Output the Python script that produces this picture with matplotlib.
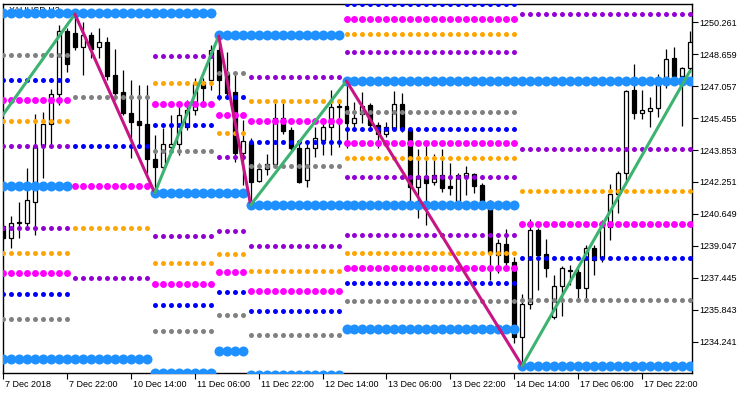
import matplotlib
matplotlib.use("Agg")
import matplotlib.pyplot as plt
import matplotlib.transforms as mtransforms
import numpy as np

# ---------------- data ----------------
opens = [1240.05, 1239.45, 1240.20, 1240.20, 1241.25, 1244.10, 1245.15, 1246.65, 1249.81, 1249.71,
         1249.01, 1249.61, 1249.01, 1249.26, 1247.61, 1246.75, 1245.70, 1245.30, 1245.15, 1243.40,
         1243.00, 1244.00, 1244.15, 1245.00, 1245.85, 1247.26, 1247.36, 1248.86, 1247.71, 1246.75,
         1243.70, 1244.20, 1242.30, 1242.90, 1243.15, 1245.45, 1244.85, 1243.95, 1242.35, 1243.95,
         1244.35, 1245.00, 1246.00, 1246.05, 1245.20, 1245.65, 1246.10, 1245.10, 1244.65, 1244.95,
         1246.15, 1244.85, 1242.00, 1242.55, 1242.25, 1242.60, 1242.05, 1241.25, 1242.50, 1242.65,
         1242.10, 1241.30, 1238.59, 1239.15, 1238.24, 1234.49, 1236.14, 1239.85, 1238.65, 1235.49,
         1237.04, 1237.79, 1237.74, 1236.94, 1238.95, 1238.45, 1240.00, 1241.65, 1242.70, 1246.85,
         1245.70, 1245.80, 1245.95, 1247.15, 1248.46, 1247.56, 1247.96]
highs = [1240.15, 1240.55, 1241.25, 1242.95, 1245.65, 1245.75, 1246.90, 1250.11, 1249.96, 1250.66,
         1250.26, 1249.76, 1249.96, 1249.51, 1248.91, 1247.86, 1247.36, 1247.10, 1247.10, 1244.60,
         1244.95, 1245.60, 1246.00, 1246.35, 1247.46, 1247.46, 1249.11, 1249.56, 1248.76, 1247.61,
         1245.35, 1244.45, 1243.20, 1243.65, 1246.20, 1246.20, 1245.00, 1244.20, 1244.20, 1245.00,
         1245.35, 1246.85, 1246.25, 1247.31, 1246.25, 1246.75, 1246.20, 1245.25, 1245.25, 1246.80,
         1246.70, 1245.00, 1243.90, 1244.05, 1243.65, 1243.90, 1243.20, 1242.70, 1243.05, 1242.70,
         1242.20, 1241.35, 1239.40, 1239.90, 1238.49, 1236.64, 1240.40, 1239.95, 1239.40, 1237.59,
         1238.04, 1238.09, 1237.99, 1239.10, 1239.10, 1240.35, 1242.15, 1242.80, 1246.85, 1248.16,
         1246.85, 1246.50, 1247.66, 1248.91, 1249.01, 1248.01, 1249.81]
lows = [1239.35, 1238.95, 1239.45, 1239.85, 1239.60, 1242.45, 1244.00, 1246.10, 1247.76, 1248.86,
        1247.61, 1248.46, 1248.46, 1247.36, 1246.35, 1245.60, 1243.45, 1243.95, 1242.70, 1241.65,
        1242.85, 1243.70, 1243.60, 1244.85, 1245.60, 1246.25, 1246.85, 1246.35, 1246.45, 1243.25,
        1242.10, 1241.15, 1242.25, 1242.60, 1243.00, 1244.65, 1243.85, 1242.20, 1242.00, 1243.50,
        1243.60, 1243.60, 1244.00, 1243.95, 1244.95, 1245.20, 1244.85, 1243.95, 1244.50, 1244.85,
        1244.75, 1241.30, 1240.45, 1240.10, 1242.10, 1241.75, 1241.60, 1241.10, 1241.60, 1241.70,
        1241.20, 1237.34, 1237.69, 1238.09, 1234.19, 1233.04, 1235.89, 1236.84, 1237.49, 1235.39,
        1235.54, 1237.09, 1236.44, 1236.44, 1237.59, 1238.24, 1239.35, 1240.70, 1242.20, 1245.40,
        1245.40, 1245.00, 1245.50, 1246.95, 1247.36, 1245.05, 1247.76]
closes = [1239.45, 1240.20, 1240.25, 1241.35, 1244.00, 1245.15, 1246.65, 1249.81, 1248.16, 1249.01,
          1249.61, 1248.91, 1249.26, 1247.56, 1246.70, 1245.70, 1245.25, 1245.10, 1243.40, 1243.00,
          1244.15, 1244.15, 1245.60, 1245.85, 1247.21, 1246.95, 1248.86, 1247.36, 1246.70, 1243.70,
          1244.30, 1242.25, 1242.90, 1243.15, 1245.45, 1244.80, 1243.95, 1242.25, 1243.95, 1244.45,
          1245.00, 1246.00, 1246.05, 1245.20, 1245.45, 1246.05, 1245.10, 1244.65, 1245.00, 1246.15,
          1244.95, 1242.00, 1242.55, 1242.20, 1242.60, 1241.95, 1241.95, 1242.60, 1242.70, 1242.05,
          1241.30, 1238.69, 1239.20, 1238.24, 1234.49, 1236.14, 1239.85, 1238.59, 1237.94, 1237.04,
          1237.94, 1237.84, 1236.94, 1238.95, 1238.34, 1240.00, 1241.65, 1242.70, 1246.80, 1245.70,
          1245.85, 1245.95, 1247.15, 1248.41, 1247.56, 1247.96, 1249.26]

# zigzag pivots (bar index, price)
zz_bars = [-2, 9, 19, 27, 31, 43, 65, 86]
zz_prices = [1244.50, 1250.66, 1241.70, 1249.56, 1241.10, 1247.31, 1233.04, 1247.81]

# level blocks (first bar, last bar) and level prices per colour
block_start = [0, 9, 19, 27, 31, 43, 65]
block_end = [8, 18, 26, 30, 42, 64, 86]
lvl_bigblue = [[1250.71, 1242.05, 1233.39], [1250.71, 1233.39], [1250.71, 1241.70, 1232.69],
               [1249.61, 1241.70, 1233.79], [1249.61, 1241.10, 1232.59], [1247.31, 1241.10, 1234.89],
               [1247.31, 1233.04]]
lvl_magenta = [[1246.35, 1237.69], [1242.05], [1246.15, 1237.14], [1245.60, 1237.74],
               [1245.30, 1236.79], [1250.41, 1244.20, 1237.94], [1240.15]]
lvl_orange = [[1245.30, 1238.70], [1239.95], [1247.21, 1238.19], [1244.70, 1238.65],
              [1246.30, 1237.79], [1249.66, 1243.45, 1238.70], [1241.80]]
lvl_purple = [[1244.05, 1239.95], [1237.44], [1248.56, 1239.55], [1243.50, 1239.80],
              [1247.51, 1239.05], [1248.76, 1242.50, 1239.60], [1250.66, 1243.90]]
lvl_blue = [[1247.36, 1236.64], [1244.05], [1245.10, 1236.09], [1246.50, 1236.74],
            [1244.25, 1235.79], [1251.16, 1244.90, 1237.19], [1238.45]]
lvl_gray = [[1248.61, 1235.39], [1246.50], [1243.80, 1234.79], [1247.71, 1235.59],
            [1243.05, 1234.59], [1245.75, 1236.29], [1236.34]]

ytick_vals = [1250.261, 1248.659, 1247.057, 1245.455, 1243.853, 1242.251,
              1240.649, 1239.047, 1237.445, 1235.843, 1234.241]
xtick_bars = [0, 8, 16, 24, 32, 40, 48, 56, 64, 72, 80]
xtick_labels = ["7 Dec 2018", "7 Dec 22:00", "10 Dec 14:00", "11 Dec 06:00", "11 Dec 22:00",
                "12 Dec 14:00", "13 Dec 06:00", "13 Dec 22:00", "14 Dec 14:00",
                "17 Dec 06:00", "17 Dec 22:00"]
title = "XAUUSD,H2"

plt.rcParams["font.family"] = ["Liberation Sans", "DejaVu Sans"]
FS = 6.5

# ---------------- figure ----------------
W, H = 750, 394
fig = plt.figure(figsize=(W / 100, H / 100), dpi=100)
fig.patch.set_facecolor("white")
L, R, T, B = 3, 692, 3.5, 372.5
ax = fig.add_axes([L / W, (H - B) / H, (R - L) / W, (B - T) / H])
ax.set_facecolor("white")
ax.set_xlim(0.125, 86.25)
ax.set_ylim(1232.71, 1251.19)

# candles
idx = np.arange(len(opens))
o = np.array(opens); c = np.array(closes); h = np.array(highs); l = np.array(lows)
ax.vlines(idx, l, h, color="black", lw=0.9, zorder=2)
bottoms = np.minimum(o, c)
heights = np.maximum(np.abs(c - o), 0.02)
fcols = ["white" if cc >= oo else "black" for oo, cc in zip(o, c)]
ax.bar(idx, heights, bottom=bottoms, width=0.5, color=fcols, edgecolor="black",
       linewidth=0.9, zorder=3)

# level dots
styles = [(lvl_purple, "#9400D3", 3.6), (lvl_blue, "#0000FF", 3.6), (lvl_gray, "#808080", 3.6),
          (lvl_orange, "#FFA500", 3.6), (lvl_magenta, "#FF00FF", 5.0), (lvl_bigblue, "#1E90FF", 7.2)]
for levels, col, ms in styles:
    for bi in range(len(block_start)):
        xs = np.arange(block_start[bi], block_end[bi] + 1)
        for pr in levels[bi]:
            ax.plot(xs, [pr] * len(xs), "o", ms=ms, color=col, mec="none", zorder=5,
                    clip_on=True)

# zigzag
for k in range(len(zz_bars) - 1):
    up = zz_prices[k + 1] > zz_prices[k]
    ax.plot(zz_bars[k:k + 2], zz_prices[k:k + 2], color="#3CB371" if up else "#C71585",
            lw=2.2, zorder=7, solid_capstyle="round")

# axes styling
for s in ax.spines.values():
    s.set_color("black"); s.set_linewidth(1.0)
ax.yaxis.tick_right()
ax.set_yticks(ytick_vals)
ax.set_yticklabels([f"{v:.3f}" for v in ytick_vals])
ax.set_xticks(xtick_bars)
ax.set_xticklabels(xtick_labels, ha="left")
ax.tick_params(axis="both", direction="out", length=4, width=0.8, colors="black",
               labelsize=FS, pad=1.5)
off = mtransforms.ScaledTranslation(2 / 100, 0, fig.dpi_scale_trans)
for lab in ax.get_xticklabels():
    lab.set_transform(lab.get_transform() + off)

ax.text(0.008, 0.995, title, transform=ax.transAxes, ha="left", va="top",
        fontsize=FS, color="black", zorder=4)

fig.savefig("out.png", dpi=100, facecolor="white")
